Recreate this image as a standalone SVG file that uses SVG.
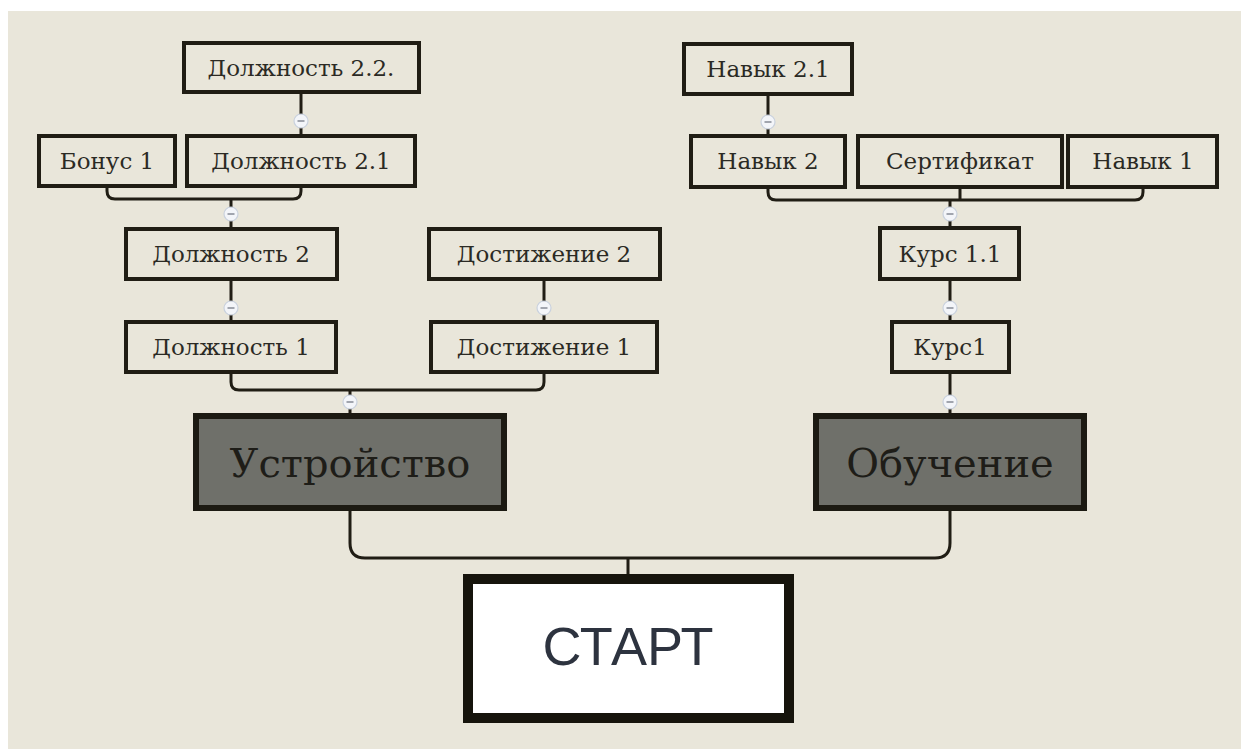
<svg xmlns="http://www.w3.org/2000/svg" width="1241" height="749" viewBox="0 0 1241 749">
<style>
.bg{fill:#E9E6DA}
.n rect{fill:#E9E6DA;stroke:#201d14;stroke-width:4}
.n text{font-family:"DejaVu Serif","Liberation Serif",serif;font-size:23px;fill:#2b2a24;text-anchor:middle}
.big rect{fill:#6f706a;stroke:#1c1a12;stroke-width:6}
.big text{font-family:"DejaVu Serif","Liberation Serif",serif;font-size:40px;fill:#1e1d18;text-anchor:middle}
.start rect{fill:#ffffff;stroke:#16140c;stroke-width:10}
.start text{font-family:"Liberation Sans",Arial,sans-serif;font-size:54px;fill:#2d333f;text-anchor:middle}
.c path{fill:none;stroke:#201d14;stroke-width:3}
.tc{fill:#f3f5f9;stroke:#c9d1dd;stroke-width:1.2}
.tl{stroke:#8d929c;stroke-width:1.6}
</style>
<defs>
<g id="tog"><circle class="tc" r="7"/><line class="tl" x1="-3.5" y1="0" x2="3.5" y2="0"/></g>
</defs>
<rect x="0" y="0" width="1241" height="749" fill="#ffffff"/>
<rect class="bg" x="8" y="11" width="1233" height="738"/>

<g class="c" id="connectors">
<path d="M301 91 V134"/>
<path d="M107 184 V191 Q107 199 115 199 H293 Q301 199 301 191 V184"/>
<path d="M231 199 V228"/>
<path d="M231 279 V322"/>
<path d="M544 279 V322"/>
<path d="M231 372 V382 Q231 390 239 390 H536 Q544 390 544 382 V372"/>
<path d="M350 390 V415"/>
<path d="M768 94 V136"/>
<path d="M768 187 V192 Q768 200 776 200 H1135 Q1143 200 1143 192 V187"/>
<path d="M960 187 V200"/>
<path d="M950 200 V228"/>
<path d="M950 279 V322"/>
<path d="M950 372 V415"/>
<path d="M350 509 V543 Q350 558 365 558 H935 Q950 558 950 543 V509"/>
<path d="M628 558 V574"/>
</g>

<g id="toggles">
<use href="#tog" x="301" y="121"/>
<use href="#tog" x="231" y="214"/>
<use href="#tog" x="231" y="308"/>
<use href="#tog" x="544" y="308"/>
<use href="#tog" x="350" y="402"/>
<use href="#tog" x="768" y="122"/>
<use href="#tog" x="950" y="214"/>
<use href="#tog" x="950" y="308"/>
<use href="#tog" x="950" y="402"/>
</g>

<g class="n" id="dolzhnost22"><rect x="184" y="43" width="235" height="49"/><text x="301" y="76">Должность 2.2.</text></g>
<g class="n" id="bonus1"><rect x="39" y="136" width="136" height="50"/><text x="107" y="169">Бонус 1</text></g>
<g class="n" id="dolzhnost21"><rect x="187" y="136" width="228" height="50"/><text x="301" y="169">Должность 2.1</text></g>
<g class="n" id="dolzhnost2"><rect x="126" y="229" width="211" height="50"/><text x="231" y="262">Должность 2</text></g>
<g class="n" id="dolzhnost1"><rect x="126" y="322" width="210" height="50"/><text x="231" y="355">Должность 1</text></g>
<g class="n" id="dostizhenie2"><rect x="429" y="229" width="231" height="50"/><text x="544" y="262">Достижение 2</text></g>
<g class="n" id="dostizhenie1"><rect x="431" y="322" width="226" height="50"/><text x="544" y="355">Достижение 1</text></g>

<g class="n" id="navyk21"><rect x="684" y="44" width="168" height="50"/><text x="768" y="77">Навык 2.1</text></g>
<g class="n" id="navyk2"><rect x="691" y="136" width="154" height="51"/><text x="768" y="169">Навык 2</text></g>
<g class="n" id="sertifikat"><rect x="858" y="136" width="204" height="51"/><text x="960" y="169">Сертификат</text></g>
<g class="n" id="navyk1"><rect x="1068" y="136" width="149" height="51"/><text x="1143" y="169">Навык 1</text></g>
<g class="n" id="kurs11"><rect x="880" y="228" width="139" height="51"/><text x="950" y="262">Курс 1.1</text></g>
<g class="n" id="kurs1"><rect x="892" y="322" width="117" height="50"/><text x="950" y="355">Курс1</text></g>

<g class="big" id="ustroystvo"><rect x="196" y="416" width="308" height="92"/><text x="350" y="477">Устройство</text></g>
<g class="big" id="obuchenie"><rect x="816" y="416" width="268" height="92"/><text x="950" y="477">Обучение</text></g>

<g class="start" id="start"><rect x="468" y="579" width="321" height="139"/><text x="628" y="665">СТАРТ</text></g>
</svg>
